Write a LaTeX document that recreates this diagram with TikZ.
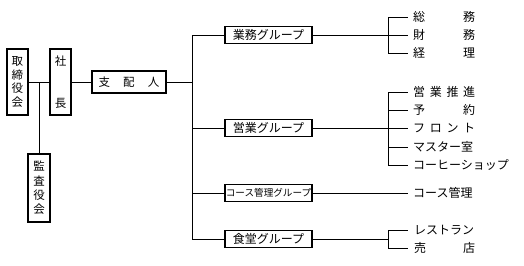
\documentclass[tikz,border=0pt]{standalone}
\usepackage{fontspec}
\newfontfamily\jp{Noto Sans CJK JP}
\begin{document}
\begin{tikzpicture}[x=1pt,y=-1pt,
  conn/.style={line width=0.9pt},
  vbox/.style={draw,line width=1.1pt,inner sep=0pt,align=center,
    font=\jp\fontsize{11.5}{13.8}\selectfont},
  gbox/.style={draw,line width=1.1pt,inner sep=0pt,minimum width=87pt,minimum height=17pt,
    font=\jp\fontsize{12}{14}\selectfont},
  item/.style={anchor=west,inner sep=0pt,text height=10pt,text depth=1.2pt,
    font=\jp\fontsize{12}{14}\selectfont}]
\useasboundingbox (0,0) rectangle (524,265);
% left part
\node[vbox,minimum width=21pt,minimum height=66pt] (tori) at (17.5,82) {取\\締\\役\\会};
\node[vbox,minimum width=21pt,minimum height=66pt] (shacho) at (60.5,82) {社\\[27.5pt]長};
\node[vbox,minimum width=22pt,minimum height=68pt,font=\jp\fontsize{11.5}{14.4}\selectfont] (kansa) at (39,188) {監\\査\\役\\会};
\node[vbox,minimum width=74pt,minimum height=22pt] (shihai) at (129,82) {\makebox[61pt][s]{支\hfill 配\hfill 人}};
\draw[conn] (tori.east) -- (shacho.west);
\draw[conn] (kansa.north) -- (kansa.north |- tori.east);
\draw[conn] (shacho.east) -- (shihai.east -| shihai.west);
% trunk
\coordinate (tx) at (192,82);
\node[gbox] (g1) at (268.5,35) {業務グループ};
\node[gbox] (g2) at (268.5,128) {営業グループ};
\node[gbox,font=\jp\fontsize{9.6}{12}\selectfont] (g3) at (268.5,193) {コース管理グループ};
\node[gbox] (g4) at (268.5,239) {食堂グループ};
\draw[conn] (shihai.east) -- (tx);
\draw[conn] (g1.west -| tx) -- (g4.west -| tx);
\foreach \g in {g1,g2,g3,g4} \draw[conn] (\g.west -| tx) -- (\g.west);
% right brackets
\coordinate (bx) at (388,0);
\coordinate (ex) at (408,0);
\node[item] (a1) at (413,17) {\makebox[62pt][s]{総\hfill 務}};
\node[item] (a2) at (413,35) {\makebox[62pt][s]{財\hfill 務}};
\node[item] (a3) at (413,53) {\makebox[62pt][s]{経\hfill 理}};
\node[item] (b1) at (413,92) {\makebox[62pt][s]{営\hfill 業\hfill 推\hfill 進}};
\node[item] (b2) at (413,110) {\makebox[62pt][s]{予\hfill 約}};
\node[item] (b3) at (413,128) {\makebox[62pt][s]{フ\hfill ロ\hfill ン\hfill ト}};
\node[item] (b4) at (413,147) {マスター室};
\node[item] (b5) at (413,165) {コーヒーショップ};
\node[item] (c1) at (413,193) {コース管理};
\node[item] (d1) at (414,230) {レストラン};
\node[item] (d2) at (414,248) {\makebox[61pt][s]{売\hfill 店}};
% group to bracket
\draw[conn] (g1.east) -- (g1.east -| bx);
\draw[conn] (g2.east) -- (g2.east -| bx);
\draw[conn] (g3.east) -- (c1.west -| ex);
\draw[conn] (g4.east) -- (g4.east -| bx);
\draw[conn] (a1.west -| bx) -- (a3.west -| bx);
\draw[conn] (b1.west -| bx) -- (b5.west -| bx);
\draw[conn] (d1.west -| bx) -- (d2.west -| bx);
\foreach \i in {a1,a2,a3,b1,b2,b3,b4,b5,d1,d2} \draw[conn] (\i.west -| bx) -- (\i.west -| ex);
\end{tikzpicture}
\end{document}
